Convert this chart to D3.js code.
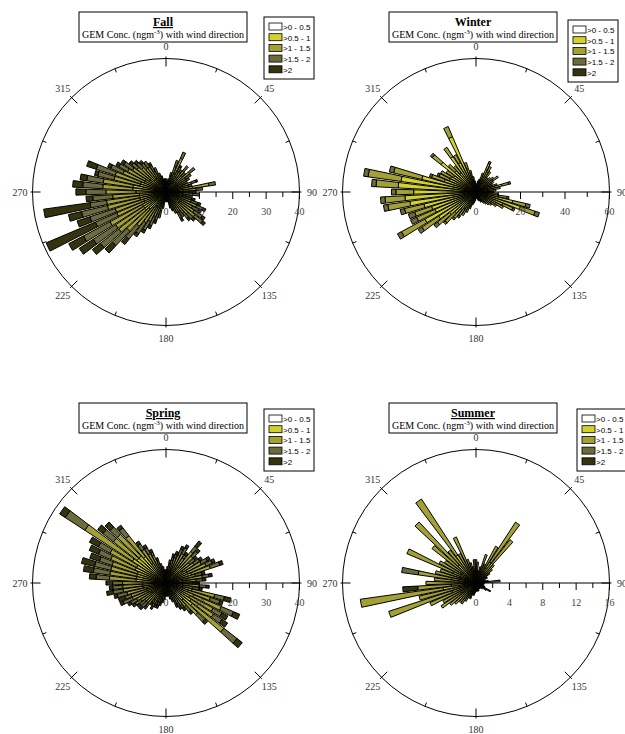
<!DOCTYPE html>
<html>
<head>
<meta charset="utf-8">
<script src="https://cdn.jsdelivr.net/npm/d3@7"></script>
<style>
  body { margin: 0; background: #fff; }
  text { font-family: "Liberation Serif", "Times New Roman", serif; }
</style>
</head>
<body>
<div id="wrapper"></div>
<script>
// wind direction bins (degrees, 5 deg steps)
const directions = d3.range(0, 360, 5)

const classLabels = [">0 - 0.5", ">0.5 - 1", ">1 - 1.5", ">1.5 - 2", ">2"]
const classColors = ["#ffffff", "#d3d12e", "#a3a036", "#6c6b3c", "#34330e"]

// Fall
const fallC1 = [0,0,0,0,0,0,0,0,0,0,0,0,0,0,0,0,0,0,0,0,0,0,0,0,0,0,0,0,0,0,0,0,0,0,0,0,0,0,0,0,0,0,0,0,0,0,0,0,0,0,0,0,0,0,0,0,0,0,0,0,0,0,0,0,0,0,0,0,0,0,0,0]
const fallC2 = [2,1.5,2,3,5,6,4,4,5,4,5,4,4,3,5,4,8,5,4,4,3,3,4,5,4,5,5,4,4,3,3,2,2,2,1,1,1,1,2,3,4,4,5,5,6,7,8,8,8,7,7,8,8,8,9,10,10,8,8,7,7,6,6,5,5,5,4,3,3,2,2,2]
const fallC3 = [1.5,1,1,2,3,5,3,3,3,2.5,4,3,3,2.5,3,3,5,4,3,4,3,3,4,5,5,5,6,5,4,4,4,3,2,2,1,1,0.5,1,2,3,3,4,5,6,7,9,10,10,11,9,9,10,10,8,9,9,9,8,8,7,6,6,5,5,4,4,3,3,2,2,1,1]
const fallC4 = [0.5,0.5,1,1,2,2,1.5,1,2,1.5,2,2,1,1.5,1.5,1,2,2,2,2,2,2,2,2,2,3,3,2,2,2,2,2,1.5,1,1,1,0.5,1,1,2,2,3,3,4,5,6,7,8,9,7,8,8,5,6,6,6,5,5,6,4,3,3,2,2,2,2,2,2,1,1,1,1]
const fallC5 = [0,0,0,0,0,0,0.5,0,0,0,0,0,0,0,0.5,0,0,0,0,0,0,1,1,1,1,1,1,1,1,0,1,0,0.5,0,0,0,0,0,0,0,1,1,1,1,2,3,3,5,5,16,4,4,14,2,3,3,2,1,3,1,1,1,1,1,1,0,1,0,0,0,0,0]

// Winter
const winterC1 = [0,0,0,0,0,0,0,0,0,0,0,0,0,0,0,0,0,0,0,0,0,0,0,0,0,0,0,0,0,0,0,0,0,0,0,0,0,0,0,0,0,0,0,0,0,0,0,0,0,0,0,0,0,0,0,0,0,0,0,0,0,0,0,0,0,0,0,0,0,0,0,0]
const winterC2 = [3,2,4,4,6,11,10,8,6,6,7,9,6,6,7,12,8,6,5,7,10,17,21,13,10,8,6,5,5,4,3,3,3,3,2,2,2,3,3,4,5,7,8,9,10,13,15,20,26,20,21,24,30,32,28,35,34,25,15,13,13,12,20,13,11,19,15,27,11,8,5,4]
const winterC3 = [1,1,1,2,3,3,3,3,2,3,3,3,3,2,3,3,3,3,3,3,4,6,7,5,4,3,3,3,2,2,2,2,1,1,1,1,1,1,2,2,3,3,4,4,5,6,7,9,12,9,8,9,10,9,8,10,15,13,6,5,5,4,5,4,4,5,4,5,3,2,2,1]
const winterC4 = [0,0,0,0,0,1,0,0,0,0,0,0,0,0,0,1,0,0,0,0,1,2,2,1,0,0,0,0,0,0,0,0,0,0,0,0,0,0,0,0,0,0,0,1,1,1,2,2,2,3,3,2,2,2,2,2,2,2,1,1,0,0,1,0,0,0,0,0,0,0,0,0]
const winterC5 = [0,0,0,0,0,0,0,0,0,0,0,0,0,0,0,0,0,0,0,0,0,0,0,0,0,0,0,0,0,0,0,0,0,0,0,0,0,0,0,0,0,0,0,0,0,0,0,0,0,0,0,0,0,0,0,0,0,0,0,0,0,0,0,0,0,0,0,0,0,0,0,0]

// Spring
const springC1 = [0,0,0,0,0,0,0,0,0,0,0,0,0,0,0,0,0,0,0,0,0,0,0,0,0,0,0,0,0,0,0,0,0,0,0,0,0,0,0,0,0,0,0,0,0,0,0,0,0,0,0,0,0,0,0,0,0,0,0,0,0,0,0,0,0,0,0,0,0,0,0,0]
const springC2 = [2,2,3,4,4,5,6,5,6,6,5,6,7,7,8,5,6,5,4,5,4,8,7,9,8,9,10,7,5,4,4,3,3,2,2,2,2,2,3,3,3,3,4,3,4,4,4,5,5,6,6,6,7,7,7,9,9,9,9,10,10,12,11,11,10,7,6,5,4,3,2,2]
const springC3 = [1.5,2,3,3,4,4,4,4,6,5,4,4,5,6,6,4,5,4,4,5,4,7,7,9,8,8,12,6,4,4,3,3,2,2,1,1,1,2,2,2,3,3,3,3,4,4,4,4,5,5,5,6,6,6,6,8,8,8,8,8,9,17,9,9,8,5,4,4,2,2,2,1]
const springC4 = [0.5,1,1,1,1,2,2,1,2,2,2,2,2,2,3,2,2,2,1,2,2,3,3,4,3,3,5,3,2,1,1,1,1,1,1,1,1,1,1,1,1,1,1,1,1,2,2,2,2,3,2,3,3,3,3,4,5,5,4,4,4,7,4,3,3,2,2,1,1,1,1,1]
const springC5 = [0,0,0,1,1,1,1,1,2,1,1,1,1,1,1,1,1,1,1,1,1,2,1,2,2,2,2,1,1,1,1,1,0,0,0,0,0,0,0,1,1,1,1,1,1,1,1,1,1,1,2,1,2,1,2,2,3,4,3,3,3,2,2,2,1,1,1,1,1,0,0,0]

// Summer
const summerC1 = [0,0,0,0,0,0,0,0,0,0,0,0,0,0,0,0,0,0,0,0,0,0,0,0,0,0,0,0,0,0,0,0,0,0,0,0,0,0,0,0,0,0,0,0,0,0,0,0,0,0,0,0,0,0,0,0,0,0,0,0,0,0,0,0,0,0,0,0,0,0,0,0]
const summerC2 = [1,1,0.5,0.5,1,1,2,3,3,1,1,0.5,0.5,0.5,0.5,0.5,0.5,1,0.5,0.5,0.4,0.5,0.5,0.5,0,0.5,0.5,0.5,0.4,0.4,0.4,0.4,0.5,0.5,0.5,0.5,0.5,0.5,0.5,0.5,1,1,1,1,1,1,1.5,2,1.5,2,3,2,4,3,2,2,3,2,2,3,2,2,2,3,2,4,1.5,2,1,1,1,1]
const summerC3 = [1.8,1.5,1,1.5,2.6,1.5,3,5.7,3.6,2,1.5,1.5,1,1,0.5,0.7,1,1.9,0.5,0.5,0.4,0.5,0.5,0.7,0,1,0.5,0.5,0.4,0.4,0.4,0.4,0.5,0.5,0.5,0.5,0.5,0.7,1,1,1,1,1.5,2,2,2.5,2.5,3,3,4,8,5,10,4,4,3,4,3,2.5,6,3,2.5,4.7,7,3,8,2.5,4,2,1.5,1,1.8]
const summerC4 = [0,0,0,0,0,0,0,0,0,0,0,0,0,0,0,0,0,0,0,0,0,0,0,0,0.5,0,0,0,0,0,0,0,0,0,0,0,0,0,0,0,0,0,0,0,0,0,0,0,0,0,0,0,0,0,0,0,2,0,0,0,0,0,0,0,0,0,0,0,0,0,0,0]
const summerC5 = [0,0,0,0,0,0,0,0,0,0,0,0,0,0,0,0,0,0,0,0,0,0,0,0,1.5,0,0,0,0,0,0,0,0,0,0,0,0,0,0,0,0,0,0,0,0,0,0,0,0,0,0,0,0,1.8,0,0,0,0,0,0,0,0,0,0,0,0,0,0,0,0,0,0]

const angleLabels = [0, 45, 90, 135, 180, 225, 270, 315]
const fallTicks = [0, 10, 20, 30, 40]
const winterTicks = [0, 20, 40, 60]
const springTicks = [0, 10, 20, 30, 40]
const summerTicks = [0, 4, 8, 12, 16]

function drawWindRoses(){
    const seasons = [
        {name: "Fall", underline: true, max: 40, ticks: fallTicks, minorStep: 5,
         classes: [fallC1, fallC2, fallC3, fallC4, fallC5],
         cx: 166, cy: 192, legendX: 264, legendY: 17},
        {name: "Winter", underline: false, max: 60, ticks: winterTicks, minorStep: 10,
         classes: [winterC1, winterC2, winterC3, winterC4, winterC5],
         cx: 476, cy: 192, legendX: 568, legendY: 20},
        {name: "Spring", underline: true, max: 40, ticks: springTicks, minorStep: 5,
         classes: [springC1, springC2, springC3, springC4, springC5],
         cx: 166, cy: 583, legendX: 264, legendY: 409},
        {name: "Summer", underline: true, max: 16, ticks: summerTicks, minorStep: 2,
         classes: [summerC1, summerC2, summerC3, summerC4, summerC5],
         cx: 476, cy: 583, legendX: 577, legendY: 409},
    ]

    let dimensions = {
        width: 625,
        height: 734,
        radius: 133.5,
    }

    const wrapper = d3.select("#wrapper")
                      .append("svg")
                      .attr("width", dimensions.width)
                      .attr("height", dimensions.height)

    const R = dimensions.radius
    const toRad = d => d * Math.PI / 180
    const halfWidth = 2   // wedge half width, degrees

    seasons.forEach(season => {
        const g = wrapper.append("g")
                         .attr("transform", `translate(${season.cx},${season.cy})`)

        const rScale = d3.scaleLinear()
                         .domain([0, season.max])
                         .range([0, R])

        // stacked data per direction
        const stacked = directions.map((dir, i) => {
            let acc = 0
            return season.classes.map((arr, k) => {
                const r0 = acc
                acc += arr[i]
                return {dir, k, r0, r1: acc}
            }).filter(s => s.r1 > s.r0)
        })

        const arc = d3.arc()
                      .innerRadius(d => rScale(d.r0))
                      .outerRadius(d => rScale(d.r1))
                      .startAngle(d => toRad(d.dir - halfWidth))
                      .endAngle(d => toRad(d.dir + halfWidth))

        const bars = g.append("g").attr("class", "bars")
        stacked.forEach(segs => {
            bars.selectAll(null)
                .data(segs)
                .enter()
                .append("path")
                .attr("d", arc)
                .attr("fill", d => classColors[d.k])
                .attr("stroke", "#000")
                .attr("stroke-width", 1)
        })

        // outer circle
        g.append("circle")
         .attr("r", R)
         .attr("fill", "none")
         .attr("stroke", "#000")
         .attr("stroke-width", 1)

        // direction ticks every 22.5 deg
        const dirTicks = d3.range(0, 360, 22.5)
        g.selectAll(".dtick")
         .data(dirTicks)
         .enter()
         .append("line")
         .attr("x1", d => Math.sin(toRad(d)) * (d % 45 === 0 ? R - 8 : R - 4))
         .attr("y1", d => -Math.cos(toRad(d)) * (d % 45 === 0 ? R - 8 : R - 4))
         .attr("x2", d => Math.sin(toRad(d)) * (d % 45 === 0 ? R + 2 : R))
         .attr("y2", d => -Math.cos(toRad(d)) * (d % 45 === 0 ? R + 2 : R))
         .attr("stroke", "#000")
         .attr("stroke-width", 1)

        // direction labels
        g.selectAll(".dlabel")
         .data(angleLabels)
         .enter()
         .append("text")
         .attr("x", d => Math.sin(toRad(d)) * 146)
         .attr("y", d => -Math.cos(toRad(d)) * 146)
         .attr("dy", "0.35em")
         .attr("text-anchor", "middle")
         .attr("font-size", 10)
         .attr("fill", "#333")
         .text(d => d)

        // radial axis along 90 deg
        const axis = g.append("g")
        axis.append("line")
            .attr("x1", 0).attr("y1", 0)
            .attr("x2", R).attr("y2", 0)
            .attr("stroke", "#000")
            .attr("stroke-width", 1)

        const minorTicks = d3.range(season.minorStep, season.max + 0.001, season.minorStep)
        axis.selectAll(".rtick")
            .data(minorTicks)
            .enter()
            .append("line")
            .attr("x1", d => rScale(d)).attr("x2", d => rScale(d))
            .attr("y1", 0)
            .attr("y2", d => season.ticks.includes(d) ? 7 : 5)
            .attr("stroke", "#000")
            .attr("stroke-width", 1)

        axis.selectAll(".rlabel")
            .data(season.ticks)
            .enter()
            .append("text")
            .attr("x", d => rScale(d))
            .attr("y", 19)
            .attr("dy", "0.35em")
            .attr("text-anchor", "middle")
            .attr("font-size", 10)
            .attr("fill", "#444")
            .text(d => d)

        // title box
        const titleG = wrapper.append("g")
                              .attr("transform", `translate(${season.cx - 3},${season.cy - 180})`)
        titleG.append("rect")
              .attr("x", -84).attr("y", 0)
              .attr("width", 168).attr("height", 30)
              .attr("fill", "#fff")
              .attr("stroke", "#000")
              .attr("stroke-width", 1)
        titleG.append("text")
              .attr("x", 0).attr("y", 14)
              .attr("text-anchor", "middle")
              .attr("font-size", 12)
              .attr("font-weight", "bold")
              .attr("text-decoration", season.underline ? "underline" : null)
              .text(season.name)
        const sub = titleG.append("text")
              .attr("x", 0).attr("y", 26)
              .attr("text-anchor", "middle")
              .attr("font-size", 10)
        sub.append("tspan").text("GEM Conc. (ngm")
        sub.append("tspan").attr("dy", -4).attr("font-size", 7).text("-3")
        sub.append("tspan").attr("dy", 4).text(") with wind direction")

        // legend
        const legend = wrapper.append("g")
                              .attr("transform", `translate(${season.legendX},${season.legendY})`)
        legend.append("rect")
              .attr("width", 50).attr("height", 62)
              .attr("fill", "#fff")
              .attr("stroke", "#000")
              .attr("stroke-width", 1)
        const rows = legend.selectAll(".row")
                           .data(classLabels)
                           .enter()
                           .append("g")
                           .attr("transform", (d, i) => `translate(5,${6 + i * 10.7})`)
        rows.append("rect")
            .attr("width", 13).attr("height", 7)
            .attr("fill", (d, i) => classColors[i])
            .attr("stroke", "#000")
            .attr("stroke-width", 0.8)
        rows.append("text")
            .attr("x", 14).attr("y", 4)
            .attr("dy", "0.35em")
            .attr("font-size", 8)
            .style("font-family", "'Liberation Sans', Arial, sans-serif")
            .text(d => d)
    })
}

drawWindRoses()
</script>
</body>
</html>
